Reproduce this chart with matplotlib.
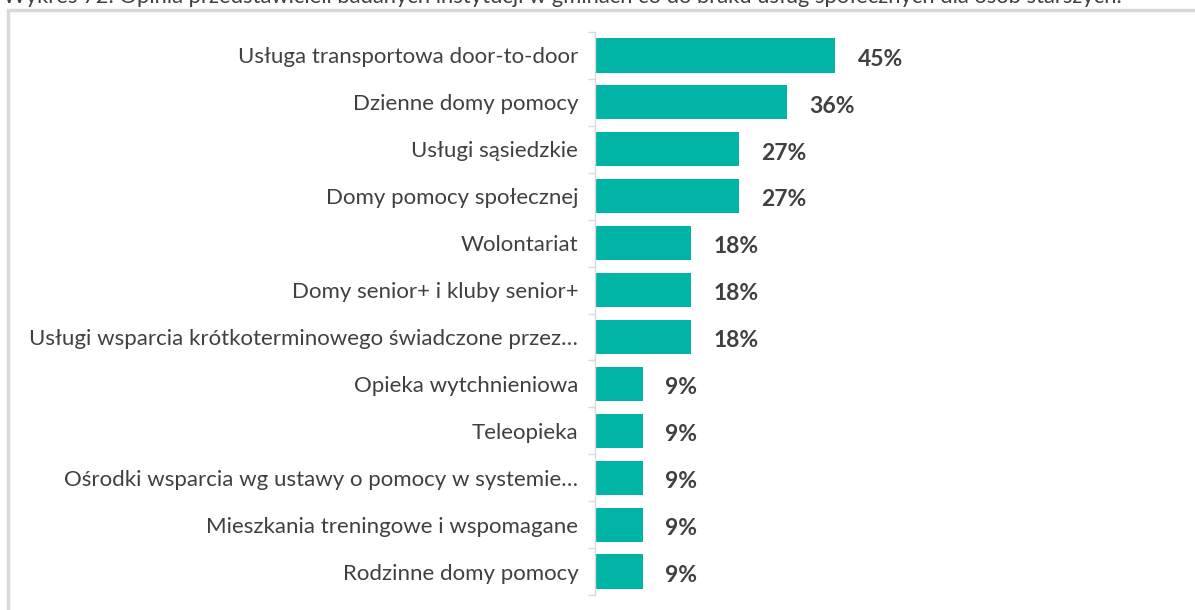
import matplotlib.pyplot as plt
from matplotlib.patches import Rectangle

# dane z wykresu
kategorie = [
    "Usługa transportowa door-to-door",
    "Dzienne domy pomocy",
    "Usługi sąsiedzkie",
    "Domy pomocy społecznej",
    "Wolontariat",
    "Domy senior+ i kluby senior+",
    "Usługi wsparcia krótkoterminowego świadczone przez…",
    "Opieka wytchnieniowa",
    "Teleopieka",
    "Ośrodki wsparcia wg ustawy o pomocy w systemie…",
    "Mieszkania treningowe i wspomagane",
    "Rodzinne domy pomocy",
]
wartosci = [45, 36, 27, 27, 18, 18, 18, 9, 9, 9, 9, 9]
tytul = ("Wykres 72. Opinia przedstawicieli badanych instytucji w gminach "
         "co do braku usług społecznych dla osób starszych.")

plt.rcParams['font.family'] = ['Lato', 'DejaVu Sans']

fig = plt.figure(figsize=(11.95, 6.10), dpi=100)

# ramka wokół wykresu
fig.patches.append(Rectangle((8 / 1195, -0.05), 1.2, 1 - 10 / 610 + 0.05,
                             transform=fig.transFigure, fill=False,
                             edgecolor='#D9D9D9', linewidth=2.5))
fig.text(3 / 1195, 1 + 3 / 610, tytul, ha='left', va='center',
         fontsize=15.8, color='#404040')

ax = fig.add_axes([595 / 1195, 15 / 610, 555 / 1195, 563 / 610])
y = range(len(kategorie))
ax.barh(y, wartosci, height=0.73, color='#00B4A6')
ax.set_xlim(0, 104)
ax.set_ylim(len(kategorie) - 0.5, -0.5)

ax.set_yticks(list(y))
ax.set_yticklabels(kategorie, fontsize=16, color='#404040')
ax.tick_params(axis='y', length=0, pad=12)
ax.set_yticks([i + 0.5 for i in range(-1, len(kategorie))], minor=True)
ax.tick_params(axis='y', which='minor', length=5, color='#D9D9D9', width=1)
ax.set_xticks([])

for s in ['top', 'right', 'bottom']:
    ax.spines[s].set_visible(False)
ax.spines['left'].set_color('#D9D9D9')
ax.spines['left'].set_linewidth(1)

for i, v in enumerate(wartosci):
    ax.text(v + 4.2, i + 0.08, f"{v}%", va='center', ha='left',
            fontsize=16.5, fontweight='bold', color='#404040')

fig.savefig('out.png', dpi=100)
